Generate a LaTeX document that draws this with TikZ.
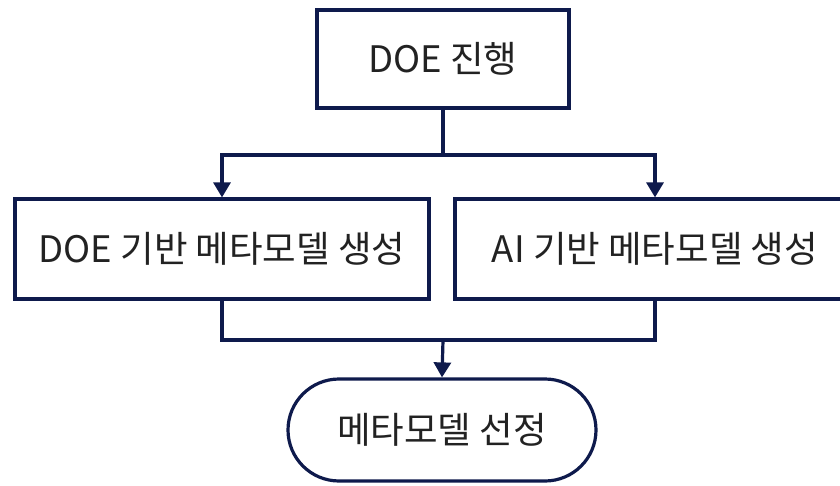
\documentclass[tikz,border=0pt]{standalone}
\usepackage{fontspec}
\setmainfont{Noto Sans CJK KR}
\usetikzlibrary{arrows.meta,shapes.misc}
\definecolor{navy}{HTML}{0E1A4C}
\definecolor{txt}{HTML}{222222}
\begin{document}
\begin{tikzpicture}[x=1pt,y=-1pt,
  box/.style={draw=navy,line width=3.2pt,fill=white,rectangle,inner sep=0pt,text=txt,font=\fontsize{36.5}{44}\selectfont},
  conn/.style={draw=navy,line width=3.2pt},
  arr/.style={conn,-{Triangle[width=17pt,length=15pt]}}]
\useasboundingbox (0,0) rectangle (840,486);
\node[box,minimum width=252pt,minimum height=98pt] (top) at (443,59) {DOE 진행};
\node[box,minimum width=414pt,minimum height=100pt] (left) at (222,249) {DOE 기반 메타모델 생성};
\node[box,minimum width=400pt,minimum height=100pt] (right) at (655,249) {AI 기반 메타모델 생성};
\node[box,rounded rectangle,minimum width=308pt,minimum height=102pt] (bot) at (442,430) {메타모델 선정};
\coordinate (split) at (443,155);
\coordinate (join) at (443,340);
\draw[conn] (top.south) -- (split);
\draw[arr] (split) -| (left.north);
\draw[arr] (split) -| (right.north);
\draw[conn] (left.south) |- (join);
\draw[conn] (right.south) |- (join);
\draw[arr] (join) -- (bot.north);
\end{tikzpicture}
\end{document}
